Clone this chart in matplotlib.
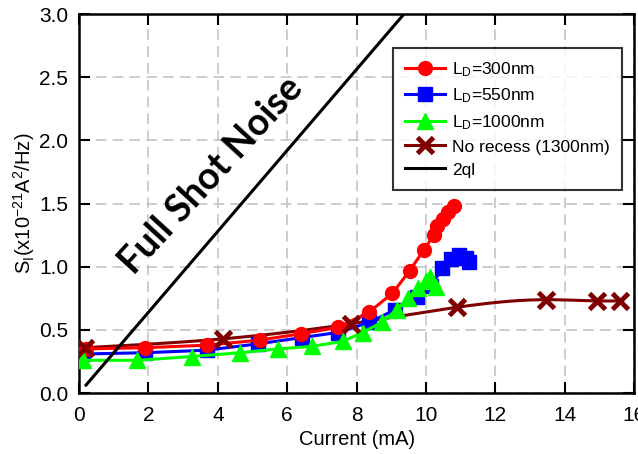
import numpy as np
import matplotlib
matplotlib.use("Agg")
import matplotlib.pyplot as plt

plt.rcParams['font.family'] = ['Liberation Sans', 'DejaVu Sans']
plt.rcParams['mathtext.default'] = 'regular'

# Data (current in mA, S_I in 1e-21 A^2/Hz)
x_300 = [0.2, 1.9, 3.7, 5.2, 6.4, 7.45, 8.35, 9.03, 9.53, 9.93, 10.22, 10.33, 10.5, 10.62, 10.82]
y_300 = [0.35, 0.36, 0.38, 0.42, 0.47, 0.52, 0.64, 0.79, 0.97, 1.13, 1.25, 1.32, 1.38, 1.43, 1.48]

x_550 = [0.12, 1.9, 3.68, 5.15, 6.42, 7.45, 8.37, 9.1, 9.75, 10.15, 10.47, 10.73, 10.96, 11.16, 11.25]
y_550 = [0.31, 0.32, 0.34, 0.39, 0.44, 0.48, 0.56, 0.66, 0.76, 0.85, 0.99, 1.06, 1.09, 1.07, 1.04]

x_1000 = [0.12, 1.67, 3.25, 4.63, 5.73, 6.7, 7.6, 8.17, 8.72, 9.15, 9.47, 9.76, 9.99, 10.12, 10.3]
y_1000 = [0.26, 0.26, 0.29, 0.32, 0.35, 0.37, 0.41, 0.48, 0.56, 0.66, 0.75, 0.83, 0.89, 0.92, 0.84]

x_nr = [0.17, 4.15, 7.85, 10.9, 13.47, 14.93, 15.6]
y_nr = [0.36, 0.43, 0.55, 0.68, 0.74, 0.73, 0.73]

q = 1.602e-19
x_shot = [0.2, 9.6]
y_shot = [2 * q * i * 1e-3 / 1e-21 for i in x_shot]

legend_labels = ['L$_D$=300nm', 'L$_D$=550nm', 'L$_D$=1000nm', 'No recess (1300nm)', '2ql']


def natural_spline(x, y, n=200):
    x = np.asarray(x, float); y = np.asarray(y, float)
    m = len(x)
    h = np.diff(x)
    A = np.zeros((m, m)); b = np.zeros(m)
    A[0, 0] = 1; A[-1, -1] = 1
    for i in range(1, m - 1):
        A[i, i - 1] = h[i - 1]; A[i, i] = 2 * (h[i - 1] + h[i]); A[i, i + 1] = h[i]
        b[i] = 3 * ((y[i + 1] - y[i]) / h[i] - (y[i] - y[i - 1]) / h[i - 1])
    c = np.linalg.solve(A, b)
    xs = np.linspace(x[0], x[-1], n)
    ys = np.empty_like(xs)
    for k, xv in enumerate(xs):
        i = min(np.searchsorted(x, xv, side='right') - 1, m - 2)
        i = max(i, 0)
        dx = xv - x[i]
        bb = (y[i + 1] - y[i]) / h[i] - h[i] * (c[i + 1] + 2 * c[i]) / 3
        dd = (c[i + 1] - c[i]) / (3 * h[i])
        ys[k] = y[i] + bb * dx + c[i] * dx ** 2 + dd * dx ** 3
    return xs, ys


fig = plt.figure(figsize=(6.38, 4.54), dpi=100)
ax = fig.add_axes([0.124, 0.134, 0.870, 0.835])

red, blue, green, brown = '#FF0000', '#0000FF', '#00FF00', '#800000'

ax.plot(x_300, y_300, '-', color=red, lw=2.2, marker='o', ms=10, label=legend_labels[0], zorder=4)
ax.plot(x_550, y_550, '-', color=blue, lw=2.2, marker='s', ms=9.5, label=legend_labels[1], zorder=3)
ax.plot(x_1000, y_1000, '-', color=green, lw=2.2, marker='^', ms=11, label=legend_labels[2], zorder=5)
xs, ys = natural_spline(x_nr, y_nr)
ax.plot(xs, ys, '-', color=brown, lw=2.2, zorder=2)
ax.plot(x_nr, y_nr, 'x', color=brown, ms=11.5, mew=3.5, zorder=6)
ax.plot([], [], '-', color=brown, lw=2.2, marker='x', ms=11, mew=3.5, label=legend_labels[3])
ax.plot(x_shot, y_shot, '-', color='black', lw=2.2, label=legend_labels[4], zorder=7)

ax.text(3.8, 1.72, 'Full Shot Noise', rotation=47.5, fontsize=27, fontweight='bold',
        family=['Lato', 'DejaVu Sans'], ha='center', va='center', rotation_mode='anchor')

ax.set_xlim(0, 16)
ax.set_ylim(0, 3.0)
ax.set_xticks(np.arange(0, 17, 2))
ax.set_yticks(np.arange(0, 3.01, 0.5))
ax.set_yticklabels([f'{v:.1f}' for v in np.arange(0, 3.01, 0.5)])
ax.grid(True, color='#c0c0c0', linestyle=(0, (7, 4)), lw=1.1)
ax.set_axisbelow(True)
ax.tick_params(direction='in', length=8, width=1.5, top=True, right=True, labelsize=15, pad=9)
ax.tick_params(axis='y', pad=8)
for s in ax.spines.values():
    s.set_linewidth(1.8)

ax.set_xlabel('Current (mA)', fontsize=14.5, labelpad=4)
ax.set_ylabel('S$_I$(x10$^{-21}$A$^2$/Hz)', fontsize=14.5, labelpad=1)

leg = ax.legend(loc='upper right', bbox_to_anchor=(0.988, 0.925), fontsize=12.5, frameon=True,
                fancybox=False, edgecolor='black', handlelength=2.3, borderpad=0.7,
                labelspacing=0.45, handletextpad=0.45, borderaxespad=0.3)
leg.get_frame().set_linewidth(1.5)
leg.set_zorder(10)

fig.savefig('out.png', dpi=100)
